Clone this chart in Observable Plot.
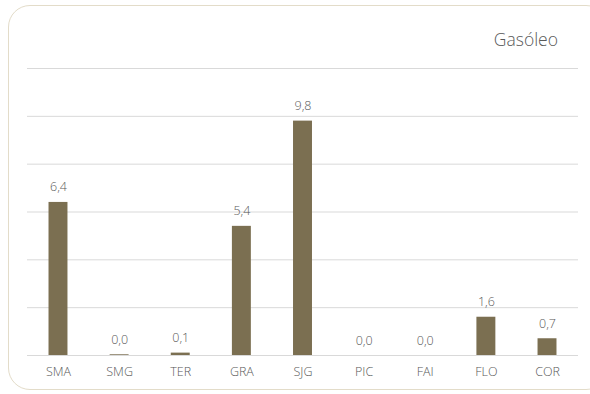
<!DOCTYPE html>
<html>
<head>
<meta charset="utf-8">
<script src="https://cdn.jsdelivr.net/npm/d3@7"></script>
<script src="https://cdn.jsdelivr.net/npm/@observablehq/plot@0.6"></script>
<style>
  html, body { margin: 0; padding: 0; background: #fff; }
  #wrap { position: relative; width: 590px; height: 394px; overflow: hidden; font-family: "Open Sans", sans-serif; }
  #frame { position: absolute; left: 8px; top: 5px; width: 600px; height: 385px; border: 1px solid #e3dcc9; border-radius: 22px; box-sizing: border-box; }
  #title { position: absolute; right: 32px; top: 27px; font-size: 17.5px; font-weight: 300; color: #595959; }
  #chart { position: absolute; left: 0; top: 0; }
</style>
</head>
<body>
<div id="wrap">
  <div id="frame"></div>
  <div id="title">Gasóleo</div>
  <div id="chart"></div>
</div>
<script>
const categories = ["SMA", "SMG", "TER", "GRA", "SJG", "PIC", "FAI", "FLO", "COR"];
const values = [6.4, 0.03, 0.1, 5.4, 9.8, 0.0, 0.0, 1.6, 0.7];
const gridTicks = [0, 2, 4, 6, 8, 10, 12];

const data = categories.map((c, i) => ({cat: c, value: values[i]}));
const fmt = v => v.toFixed(1).replace(".", ",");

const chart = Plot.plot({
  width: 590,
  height: 394,
  marginLeft: 27,
  marginRight: 12,
  marginTop: 68,
  marginBottom: 39,
  style: {fontFamily: "Open Sans, sans-serif", fontSize: "12.5px", fontWeight: 300, color: "#595959", background: "transparent"},
  x: {domain: categories, paddingInner: 0.69, paddingOuter: 0.352, round: false, label: null, tickSize: 0, tickPadding: 12},
  y: {domain: [0, 12], axis: null},
  marks: [
    Plot.ruleY(gridTicks, {stroke: "#d9d9d9", strokeWidth: 1}),
    Plot.barY(data, {x: "cat", y: "value", fill: "#7b6f51"}),
    Plot.text(data, {x: "cat", y: "value", text: d => fmt(d.value), dy: -15, fill: "#595959", fontSize: 12.5, fontWeight: 300})
  ]
});
document.getElementById("chart").appendChild(chart);
</script>
</body>
</html>
